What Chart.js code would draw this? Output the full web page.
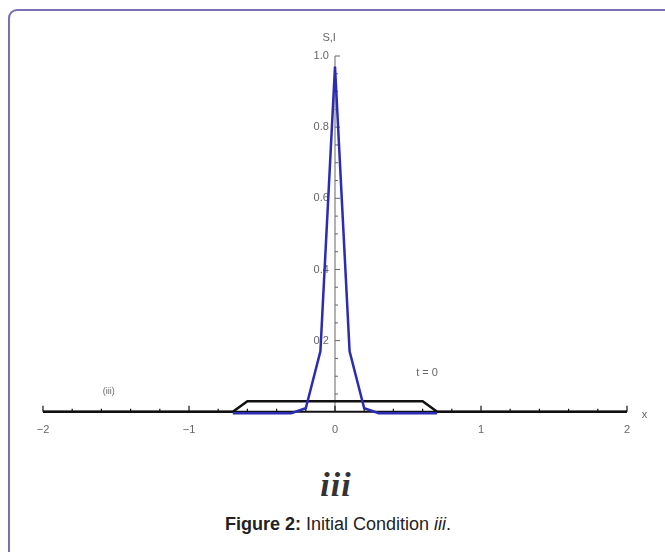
<!DOCTYPE html>
<html lang="en">

<head>
    <meta charset="UTF-8">
    <title>Initial Condition iii</title>
    <style>
        body {
            margin: 0;
            width: 665px;
            height: 552px;
            background: #fff;
            position: relative;
            overflow: hidden;
            font-family: "Liberation Sans", Arial, sans-serif;
        }

        .frame {
            position: absolute;
            left: 8px;
            top: 9px;
            width: 700px;
            height: 600px;
            border-top: 2px solid #7b70b3;
            border-left: 2px solid #7b70b3;
            border-top-left-radius: 9px;
        }

        #chart {
            position: absolute;
            left: 0;
            top: 0;
        }

        .panel {
            position: absolute;
            left: 0;
            width: 672px;
            text-align: center;
            top: 466px;
            font-family: "Liberation Serif", "DejaVu Serif", serif;
            font-style: italic;
            font-weight: bold;
            font-size: 34px;
            letter-spacing: 1px;
            color: #333;
        }

        .caption {
            position: absolute;
            left: 0;
            width: 676px;
            text-align: center;
            top: 514px;
            font-size: 18px;
            color: #222;
        }
    </style>
</head>

<body>
    <div class="frame"></div>
    <canvas id="chart" width="665" height="455"></canvas>
    <div class="panel">iii</div>
    <div class="caption"><b>Figure 2:</b> Initial Condition <i>iii</i>.</div>

    <script src="https://cdn.jsdelivr.net/npm/chart.js"></script>
    <script>
        // S (black trapezoid)
        const sX = [-2, -0.7, -0.6, 0.6, 0.7, 2];
        const sY = [0, 0, 0.03, 0.03, 0, 0];

        // I (blue spike)
        const iX = [-0.7, -0.6, -0.5, -0.4, -0.3, -0.2, -0.1, 0, 0.1, 0.2, 0.3, 0.4, 0.5, 0.6, 0.7];
        const iY = [-0.004, -0.004, -0.004, -0.004, -0.004, 0.01, 0.17, 0.97, 0.17, 0.01, -0.004, -0.004, -0.004, -0.004, -0.004];

        // axis ticks
        const xMajor = [-2, -1, 0, 1, 2];
        const xMinorStep = 0.2;
        const yMinorStep = 0.05;

        function toPoints(xs, ys) {
            return xs.map((x, i) => ({ x: x, y: ys[i] }));
        }

        // axes drawn like the Mathematica original
        const axesPlugin = {
            id: 'axes',
            beforeDatasetsDraw(chart) {
                const ctx = chart.ctx;
                const xs = chart.scales.x, ys = chart.scales.y;
                const x0 = xs.getPixelForValue(0), y0 = ys.getPixelForValue(0);
                ctx.save();

                // y axis
                ctx.strokeStyle = '#666';
                ctx.lineWidth = 1;
                ctx.beginPath();
                ctx.moveTo(x0, y0);
                ctx.lineTo(x0, ys.getPixelForValue(1));
                ctx.lineTo(x0 + 5, ys.getPixelForValue(1));
                for (let v = yMinorStep; v < 1; v += yMinorStep) {
                    const p = ys.getPixelForValue(v);
                    ctx.moveTo(x0, p);
                    ctx.lineTo(x0 + (Math.abs(v * 5 - Math.round(v * 5)) < 1e-6 ? 5 : 3), p);
                }
                ctx.stroke();

                // x axis
                ctx.strokeStyle = '#111';
                ctx.lineWidth = 2;
                ctx.beginPath();
                ctx.moveTo(xs.getPixelForValue(-2), y0);
                ctx.lineTo(xs.getPixelForValue(2), y0);
                ctx.stroke();
                ctx.lineWidth = 1.2;
                ctx.beginPath();
                for (let v = -2; v <= 2.0001; v += xMinorStep) {
                    const p = xs.getPixelForValue(v);
                    const major = xMajor.some(m => Math.abs(m - v) < 1e-6);
                    ctx.moveTo(p, y0);
                    ctx.lineTo(p, y0 - (major ? 6 : 3));
                }
                ctx.stroke();
                ctx.restore();
            },
            afterDraw(chart) {
                const ctx = chart.ctx;
                const xs = chart.scales.x, ys = chart.scales.y;
                ctx.save();
                ctx.fillStyle = '#666';
                ctx.textAlign = 'center';
                ctx.textBaseline = 'middle';
                ctx.font = '11px "Liberation Sans", Arial, sans-serif';
                ctx.fillText('S,I', xs.getPixelForValue(-0.04), ys.getPixelForValue(1.05));
                ctx.fillText('x', xs.getPixelForValue(2.12), ys.getPixelForValue(-0.01));
                ctx.fillText('t = 0', xs.getPixelForValue(0.63), ys.getPixelForValue(0.11));
                ctx.font = '9px "Liberation Sans", Arial, sans-serif';
                ctx.fillText('(iii)', xs.getPixelForValue(-1.55), ys.getPixelForValue(0.057));
                ctx.restore();
            }
        };

        new Chart(document.getElementById('chart'), {
            type: 'line',
            data: {
                datasets: [{
                    label: 'I',
                    data: toPoints(iX, iY),
                    borderColor: '#2b2bb3',
                    borderWidth: 2.5,
                    pointRadius: 0,
                    clip: false,
                    order: 0
                }, {
                    label: 'S',
                    data: toPoints(sX, sY),
                    borderColor: '#111',
                    borderWidth: 2.5,
                    pointRadius: 0,
                    clip: false,
                    order: 1
                }]
            },
            options: {
                responsive: false,
                devicePixelRatio: 1,
                animation: false,
                layout: { padding: { left: 43, right: 38, top: 56, bottom: 6 } },
                plugins: {
                    legend: { display: false },
                    tooltip: { enabled: false }
                },
                scales: {
                    x: {
                        type: 'linear',
                        min: -2,
                        max: 2,
                        position: 'bottom',
                        grid: { display: false, drawTicks: false },
                        border: { display: false },
                        ticks: {
                            stepSize: 1,
                            padding: 12,
                            color: '#666',
                            font: { size: 11, family: '"Liberation Sans", Arial, sans-serif' },
                            callback: v => v < 0 ? '\u2212' + Math.abs(v) : String(v)
                        }
                    },
                    y: {
                        type: 'linear',
                        min: 0,
                        max: 1,
                        position: { x: 0 },
                        afterFit(scale) { scale.width = 0; },
                        grid: { display: false, drawTicks: false },
                        border: { display: false },
                        ticks: {
                            stepSize: 0.2,
                            color: '#666',
                            font: { size: 11, family: '"Liberation Sans", Arial, sans-serif' },
                            callback: v => v === 0 ? '' : v.toFixed(1) + '  '
                        }
                    }
                }
            },
            plugins: [axesPlugin]
        });
    </script>
</body>

</html>
